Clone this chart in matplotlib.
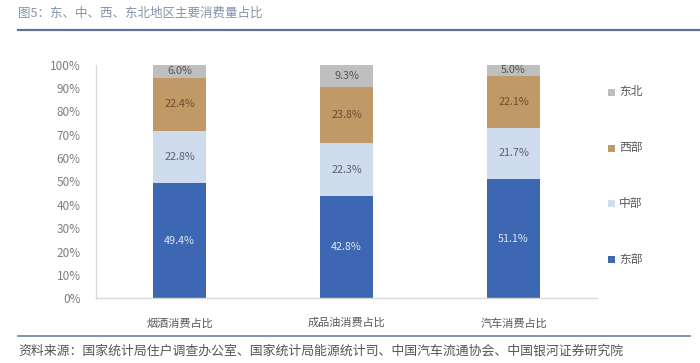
import matplotlib
matplotlib.use("Agg")
import matplotlib.pyplot as plt
import numpy as np
from matplotlib.patches import Rectangle
from matplotlib.lines import Line2D

plt.rcParams['font.family'] = ['Noto Sans CJK SC', 'DejaVu Sans']

categories = ["烟酒消费占比", "成品油消费占比", "汽车消费占比"]
series_names = ["东部", "中部", "西部", "东北"]
east = [49.4, 42.8, 51.1]
central = [22.8, 22.3, 21.7]
west = [22.4, 23.8, 22.1]
northeast = [6.0, 9.3, 5.0]
yticklabels = ["0%", "10%", "20%", "30%", "40%", "50%", "60%", "70%", "80%", "90%", "100%"]

colors = ["#3d66b3", "#cfdcee", "#c09a66", "#bfbfbf"]
label_colors = ["#dfe6f2", "#5a6070", "#6a4e2e", "#555555"]

W, H = 700, 363
fig = plt.figure(figsize=(W / 100, H / 100), dpi=100)
ax = fig.add_axes([96 / W, (H - 298.3) / H, (597 - 96) / W, 233.8 / H])

data = np.array([east, central, west, northeast])
totals = data.sum(axis=0)
norm = data / totals * 100
x = np.arange(len(categories))
bottom = np.zeros(len(categories))
for i, name in enumerate(series_names):
    ax.bar(x, norm[i], bottom=bottom, width=0.32, color=colors[i], label=name, zorder=2)
    for j in range(len(categories)):
        ax.text(x[j], bottom[j] + norm[i][j] / 2, f"{data[i][j]:.1f}%", ha="center", va="center",
                fontsize=7.8, color=label_colors[i], zorder=3)
    bottom += norm[i]

ax.set_xlim(-0.5, 2.5)
ax.set_ylim(0, 100)
ax.set_yticks(np.arange(0, 101, 10))
ax.set_yticklabels(yticklabels, fontsize=8.5, color="#7f7f7f")
ax.set_xticks(x)
ax.set_xticklabels(categories, fontsize=8, color="#595959")
ax.tick_params(axis="both", length=0)
ax.tick_params(axis="y", pad=11)
ax.tick_params(axis="x", pad=14)
for s in ["top", "right"]:
    ax.spines[s].set_visible(False)
for s in ["left", "bottom"]:
    ax.spines[s].set_color("#d9d9d9")
    ax.spines[s].set_linewidth(1)

# legend
legend_y = [92, 148, 203, 259]
for name, c, yy in zip(reversed(series_names), reversed(colors), legend_y):
    fig.patches.append(Rectangle((608 / W, (H - yy - 3.5) / H), 7 / W, 7 / H,
                                 transform=fig.transFigure, facecolor=c, edgecolor="none"))
    fig.text(619 / W, (H - yy) / H, name, fontsize=8.5, color="#595959", va="center", ha="left")

# title and lines
fig.text(18 / W, (H - 13) / H, "图5：东、中、西、东北地区主要消费量占比", fontsize=9,
         color="#8393ab", va="center", ha="left")
fig.add_artist(Line2D([18 / W, 1.0], [(H - 30) / H] * 2, transform=fig.transFigure,
                      color="#5f7394", linewidth=1.6))
fig.add_artist(Line2D([18 / W, 690 / W], [(H - 336) / H] * 2, transform=fig.transFigure,
                      color="#6a7fa0", linewidth=1.2))
fig.text(18 / W, (H - 351) / H, "资料来源：国家统计局住户调查办公室、国家统计局能源统计司、中国汽车流通协会、中国银河证券研究院",
         fontsize=9.3, color="#555555", va="center", ha="left", style="italic")

fig.savefig("out.png", dpi=100)
